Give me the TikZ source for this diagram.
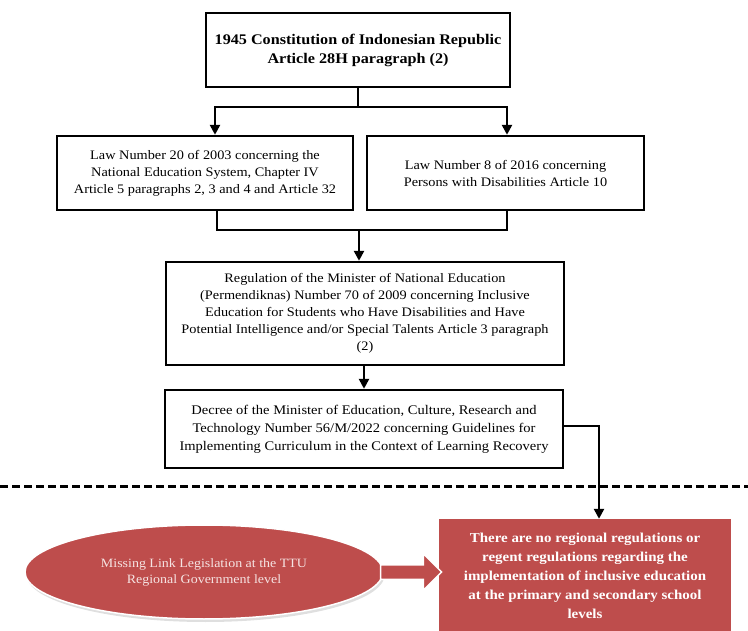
\documentclass[tikz,border=0pt]{standalone}
\usepackage{fontspec}
\setmainfont{Liberation Serif}[FakeStretch=1.1]
\usepackage{xcolor}
\usepackage{tikz}
\usetikzlibrary{arrows.meta,shapes.geometric,shapes.arrows,shadows,positioning,calc}
\definecolor{gapred}{HTML}{BE4D4C}
\definecolor{gappink}{HTML}{F6E4E3}

\begin{document}
\begin{tikzpicture}[x=1pt, y=-1pt,
		lawbox/.style={draw, rectangle, line width=2.4pt, fill=white, align=center, inner sep=2pt, font=\fontsize{13}{17}\selectfont},
		link/.style={line width=2.4pt},
		arr/.style={line width=2.4pt, -{Triangle[length=10pt,width=10pt]}},
		gapbox/.style={rectangle, fill=gapred, align=center, text=white, font=\fontsize{13.6}{19}\selectfont\bfseries}]
		\useasboundingbox (0,0) rectangle (748,631);

		\node[lawbox, minimum width=304pt, minimum height=74pt, font=\fontsize{14.7}{19}\selectfont\bfseries] (uud) at (358,50) {1945 Constitution of Indonesian Republic\\Article 28H paragraph (2)};

		\node[lawbox, minimum width=296pt, minimum height=74pt] (lawA) at (205,173) {Law Number 20 of 2003 concerning the\\National Education System, Chapter IV\\Article 5 paragraphs 2, 3 and 4 and Article 32};
		\node[lawbox, minimum width=277pt, minimum height=74pt] (lawB) at (505.5,173) {Law Number 8 of 2016 concerning\\Persons with Disabilities Article 10};

		\node[lawbox, minimum width=398pt, minimum height=103pt] (perm) at (365,313.5) {Regulation of the Minister of National Education\\(Permendiknas) Number 70 of 2009 concerning Inclusive\\Education for Students who Have Disabilities and Have\\Potential Intelligence and/or Special Talents Article 3 paragraph\\(2)};

		\node[lawbox, minimum width=398pt, minimum height=78pt, font=\fontsize{13.2}{18}\selectfont] (kep) at (364,429) {Decree of the Minister of Education, Culture, Research and\\Technology Number 56/M/2022 concerning Guidelines for\\Implementing Curriculum in the Context of Learning Recovery};

		\coordinate (jt) at (358,107);
		\draw[link] (uud.south) -- (jt);
		\draw[arr] (jt) -| ([xshift=10pt]lawA.north);
		\draw[arr] (jt) -| ([xshift=1.5pt]lawB.north);

		\coordinate (jb) at (359,230);
		\draw[link] ([xshift=12pt]lawA.south) |- (jb);
		\draw[link] ([xshift=1.5pt]lawB.south) |- (jb);
		\draw[arr] (jb) -- (jb |- perm.north);

		\draw[arr] (kep.north |- perm.south) -- (kep.north);

		\draw[line width=3pt, dash pattern=on 8pt off 4pt] (0,486) -- (748,486);

		\node[ellipse, fill=gapred, draw=white, line width=1.5pt, minimum width=358pt, minimum height=94pt, inner sep=0pt, drop shadow={shadow xshift=1.5pt, shadow yshift=-3pt, opacity=0.25}, text=gappink, align=center, font=\fontsize{12.7}{16}\selectfont] (gap) at (204,572) {Missing Link Legislation at the TTU\\Regional Government level};

		\node[gapbox, minimum width=292pt, minimum height=114pt] (perda) at (585,576) {There are no regional regulations or\\regent regulations regarding the\\implementation of inclusive education\\at the primary and secondary school\\levels};

		\node[single arrow, fill=gapred, draw=white, line width=1.5pt, minimum width=35pt, minimum height=61pt, single arrow head extend=11pt, inner xsep=0pt, inner ysep=6.5pt] (gaparrow) at (407.5,572) {};

		\draw[arr] ([yshift=3pt]kep.east) -| ([xshift=14pt]perda.north);
	\end{tikzpicture}
\end{document}
